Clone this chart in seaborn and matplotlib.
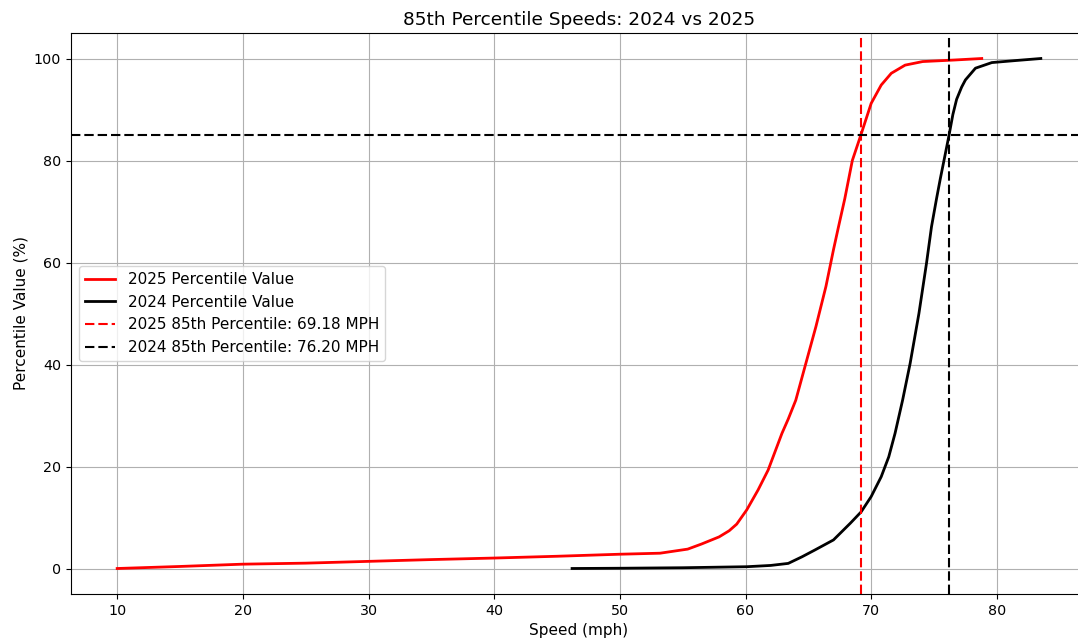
import matplotlib
matplotlib.use("Agg")
import matplotlib.pyplot as plt
import seaborn as sns

# Percentile curves: speed (mph) at each percentile level
speed_2025 = [10.0, 15.0, 20.0, 25.0, 30.0, 35.0, 40.0, 45.0, 50.0, 53.2, 55.4,
              56.5, 57.9, 58.7, 59.3, 60.1, 61.0, 61.8, 62.9, 63.4, 64.0, 64.8,
              65.6, 66.4, 67.0, 67.4, 67.9, 68.5, 69.18, 70.0, 70.8, 71.6, 72.7,
              74.1, 76.6, 78.8]
pct_2025 = [0.0, 0.4, 0.85, 1.05, 1.4, 1.75, 2.05, 2.4, 2.8, 3.0, 3.8,
            4.8, 6.2, 7.4, 8.7, 11.5, 15.4, 19.3, 26.5, 29.3, 33.0, 40.2,
            47.4, 55.3, 62.5, 67.0, 72.5, 80.0, 85.0, 91.2, 94.8, 97.1, 98.7,
            99.4, 99.7, 100.0]

speed_2024 = [46.2, 50.0, 55.0, 60.1, 62.0, 63.4, 64.5, 65.5, 67.0, 68.35, 69.2,
              70.0, 70.8, 71.4, 71.9, 72.5, 73.1, 73.8, 74.4, 74.8, 75.2, 75.5,
              76.2, 76.5, 76.8, 77.2, 77.5, 78.3, 79.6, 81.5, 83.5]
pct_2024 = [0.0, 0.05, 0.15, 0.35, 0.6, 1.0, 2.3, 3.6, 5.6, 8.9, 11.1,
            14.1, 18.0, 21.9, 26.5, 33.0, 40.2, 50.0, 59.8, 67.0, 72.5, 76.4,
            85.0, 89.0, 92.0, 94.4, 95.8, 98.1, 99.2, 99.6, 100.0]

p85_2025 = 69.18
p85_2024 = 76.20
target_pct = 85

dash = (0, (4.5, 1.9))

fig = plt.figure(figsize=(10.78, 6.42), dpi=100)
ax = fig.add_axes([71 / 1078, 48 / 642, 1016 / 1078, 561 / 642])

sns.lineplot(x=speed_2025, y=pct_2025, color="red", linewidth=2,
             label="2025 Percentile Value", sort=False, estimator=None, ax=ax)
sns.lineplot(x=speed_2024, y=pct_2024, color="black", linewidth=2,
             label="2024 Percentile Value", sort=False, estimator=None, ax=ax)

ax.axvline(p85_2025, color="red", linestyle=dash, linewidth=1.5,
           label=f"2025 85th Percentile: {p85_2025:.2f} MPH")
ax.axvline(p85_2024, color="black", linestyle=dash, linewidth=1.5,
           label=f"2024 85th Percentile: {p85_2024:.2f} MPH")
ax.axhline(target_pct, color="black", linestyle=dash, linewidth=1.5)

ax.set_title("85th Percentile Speeds: 2024 vs 2025", fontsize=13.3)
ax.set_xlabel("Speed (mph)", fontsize=11)
ax.set_ylabel("Percentile Value (%)", fontsize=11)
ax.tick_params(labelsize=10.3)
ax.grid(True)
ax.legend(loc="center left", fontsize=11)

fig.savefig("out.png", dpi=100)
